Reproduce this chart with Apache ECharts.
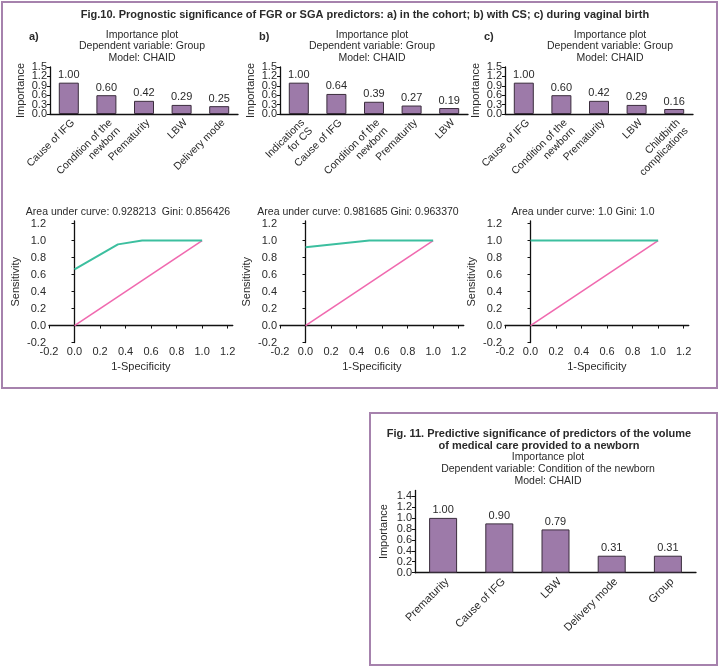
<!DOCTYPE html>
<html>
<head>
<meta charset="utf-8">
<script src="https://cdn.jsdelivr.net/npm/echarts@6/dist/echarts.min.js"></script>
<style>
html,body{margin:0;padding:0;background:#fff;}
#c{width:720px;height:669px;}
</style>
</head>
<body>
<div id="c"></div>
<script>
// ---------- data ----------
const fig10Title = 'Fig.10. Prognostic significance of FGR or SGA predictors: a) in the cohort; b) with CS; c) during vaginal birth';
const panelLetters = ['a)', 'b)', 'c)'];
const plotHeader = ['Importance plot', 'Dependent variable: Group', 'Model: CHAID'];

const catsA = ['Cause of IFG', 'Condition of the\nnewborn', 'Prematurity', 'LBW', 'Delivery mode'];
const valsA = [1.00, 0.60, 0.42, 0.29, 0.25];
const catsB = ['Indications\nfor CS', 'Cause of IFG', 'Condition of the\nnewborn', 'Prematurity', 'LBW'];
const valsB = [1.00, 0.64, 0.39, 0.27, 0.19];
const catsC = ['Cause of IFG', 'Condition of the\nnewborn', 'Prematurity', 'LBW', 'Childbirth\ncomplications'];
const valsC = [1.00, 0.60, 0.42, 0.29, 0.16];
const impTicks = [0, 0.3, 0.6, 0.9, 1.2, 1.5];

const aucTexts = ['Area under curve: 0.928213  Gini: 0.856426', 'Area under curve: 0.981685 Gini: 0.963370', 'Area under curve: 1.0 Gini: 1.0'];
const rocA = [[0, 0.66], [0.34, 0.955], [0.53, 1.0], [1.0, 1.0]];
const rocB = [[0, 0.92], [0.5, 1.0], [1.0, 1.0]];
const rocC = [[0, 1.0], [1.0, 1.0]];
const diagLine = [[0, 0], [1, 1]];
const rocTicks = [-0.2, 0, 0.2, 0.4, 0.6, 0.8, 1.0, 1.2];

const fig11Title = ['Fig. 11. Predictive significance of predictors of the volume', 'of medical care provided to a newborn'];
const fig11Header = ['Importance plot', 'Dependent variable: Condition of the newborn', 'Model: CHAID'];
const cats11 = ['Prematurity', 'Cause of IFG', 'LBW', 'Delivery mode', 'Group'];
const vals11 = [1.00, 0.90, 0.79, 0.31, 0.31];
const imp11Ticks = [0, 0.2, 0.4, 0.6, 0.8, 1.0, 1.2, 1.4];

// ---------- styles ----------
const FONT = '"Liberation Sans", Arial, sans-serif';
const TXT = '#2a2a2a';
const FRAME = '#a682ad';
const BAR_FILL = '#9d7aa9';
const BAR_EDGE = '#3b2d3d';
const GREEN = '#3cbf9f';
const PINK = '#f06aaf';

const chart = echarts.init(document.getElementById('c'), null, {renderer: 'canvas'});

const grids = [], xAxes = [], yAxes = [], series = [], graphics = [];

function txt(x, y, s, size, bold, align) {
  graphics.push({type: 'text', x: x, y: y, silent: true,
    style: {text: s, fill: TXT, font: (bold ? 'bold ' : '') + size + 'px ' + FONT,
      align: align || 'center', verticalAlign: 'middle'}});
}

function axisCommon(fs) {
  return {
    axisLine: {show: true, lineStyle: {color: '#111', width: 1.3}},
    axisTick: {show: true, length: 3, lineStyle: {color: '#111'}},
    axisLabel: {color: TXT, fontSize: fs, fontFamily: FONT, margin: 4},
    splitLine: {show: false},
    nameTextStyle: {color: TXT, fontSize: fs, fontFamily: FONT}
  };
}

function yLabelAxis(gi, ymax, ticks, fs, extra) {
  return Object.assign(axisCommon(fs), {
    type: 'value', gridIndex: gi, min: 0, max: ymax, position: 'left',
    axisLabel: {color: TXT, fontSize: fs, fontFamily: FONT, margin: 3,
      showMinLabel: true, showMaxLabel: true, hideOverlap: false,
      customValues: ticks, formatter: v => v.toFixed(1)},
    axisTick: {show: true, length: 3, customValues: ticks, lineStyle: {color: '#111'}}
  }, extra || {});
}

// split: put alternate tick labels on two coincident axes so the dense labels are all drawn
function addBarPanel(left, top, width, height, cats, vals, ticks, ymax, fs, catFs, barW, nameGap, split) {
  const gi = grids.length;
  grids.push({left: left, top: top, width: width, height: height, containLabel: false});
  xAxes.push(Object.assign(axisCommon(fs), {
    type: 'category', gridIndex: gi, data: cats,
    axisTick: {show: false},
    axisLabel: {color: TXT, fontSize: catFs, fontFamily: FONT, rotate: 45, interval: 0, margin: 3,
      verticalAlign: 'top', lineHeight: catFs + 1}
  }));
  const yi = yAxes.length;
  const mainTicks = split ? ticks.filter((t, i) => i % 2 === 0) : ticks;
  yAxes.push(yLabelAxis(gi, ymax, mainTicks, fs,
    {name: 'Importance', nameLocation: 'middle', nameGap: nameGap, nameRotate: 90}));
  if (split) {
    const altTicks = ticks.filter((t, i) => i % 2 === 1);
    yAxes.push(yLabelAxis(gi, ymax, altTicks, fs, {axisLine: {show: false}, offset: 0}));
  }
  series.push({
    type: 'bar', xAxisIndex: gi, yAxisIndex: yi, data: vals, barWidth: barW,
    itemStyle: {color: BAR_FILL, borderColor: BAR_EDGE, borderWidth: 1},
    label: {show: true, position: 'top', distance: 2, color: TXT, fontSize: fs, fontFamily: FONT,
      formatter: p => p.value.toFixed(2)},
    silent: true, animation: false
  });
}

function addRocPanel(left, top, curve) {
  const gi = grids.length;
  const unitX = 127.6, unitY = 85;
  grids.push({left: left, top: top, width: unitX * 1.44, height: unitY * 1.43});
  xAxes.push(Object.assign(axisCommon(11), {
    type: 'value', gridIndex: gi, min: -0.2, max: 1.24,
    name: '1-Specificity', nameLocation: 'middle', nameGap: 19,
    axisLabel: {color: TXT, fontSize: 11, fontFamily: FONT, margin: 4, customValues: rocTicks,
      showMinLabel: true, formatter: v => v.toFixed(1)},
    axisTick: {show: true, length: 3, customValues: rocTicks, lineStyle: {color: '#111'}}
  }));
  const yi = yAxes.length;
  yAxes.push(Object.assign(axisCommon(11), {
    type: 'value', gridIndex: gi, min: -0.2, max: 1.23,
    name: 'Sensitivity', nameLocation: 'middle', nameGap: 28, nameRotate: 90,
    axisLabel: {color: TXT, fontSize: 11, fontFamily: FONT, margin: 3, customValues: rocTicks,
      showMinLabel: true, formatter: v => v.toFixed(1)},
    axisTick: {show: true, length: 3, customValues: rocTicks, lineStyle: {color: '#111'}}
  }));
  series.push({type: 'line', xAxisIndex: gi, yAxisIndex: yi, data: diagLine, showSymbol: false,
    lineStyle: {color: PINK, width: 1.6}, silent: true, animation: false});
  series.push({type: 'line', xAxisIndex: gi, yAxisIndex: yi, data: curve, showSymbol: false,
    lineStyle: {color: GREEN, width: 2}, silent: true, animation: false});
}

// frames
graphics.push({type: 'rect', shape: {x: 2, y: 2, width: 715, height: 386}, style: {fill: 'none', stroke: FRAME, lineWidth: 2}, silent: true});
graphics.push({type: 'rect', shape: {x: 370, y: 413, width: 347, height: 252}, style: {fill: 'none', stroke: FRAME, lineWidth: 2}, silent: true});

// Fig 10 title
txt(365, 15, fig10Title, 11, true, 'center');

// Bar panels fig 10
const barLefts = [48, 278, 503];
const headerCenters = [142, 372, 610];
const letterX = [29, 259, 484];
const catsAll = [catsA, catsB, catsC];
const valsAll = [valsA, valsB, valsC];
for (let i = 0; i < 3; i++) {
  txt(letterX[i], 37, panelLetters[i], 11, true, 'left');
  for (let k = 0; k < 3; k++) txt(headerCenters[i], 35 + k * 11.6, plotHeader[k], 10.5);
  addBarPanel(barLefts[i] + 2, 67, 188, 47, catsAll[i], valsAll[i], impTicks, 1.5, 11, 10.5, 20, 24, true);
}

// ROC panels
const rocLefts = [49, 280, 505];
const aucCenters = [128, 358, 583];
const curves = [rocA, rocB, rocC];
for (let i = 0; i < 3; i++) {
  txt(aucCenters[i], 212, aucTexts[i], 10.5);
  addRocPanel(rocLefts[i], 221, curves[i]);
}

// Fig 11
txt(539, 434, fig11Title[0], 11, true, 'center');
txt(539, 446, fig11Title[1], 11, true, 'center');
for (let k = 0; k < 3; k++) txt(548, 457.5 + k * 11.6, fig11Header[k], 10.5);
addBarPanel(415, 490.5, 281, 82.2, cats11, vals11, imp11Ticks, 1.5, 11, 11, 28, 26, false);

chart.setOption({
  animation: false,
  backgroundColor: '#fff',
  grid: grids, xAxis: xAxes, yAxis: yAxes, series: series,
  graphic: graphics
});
</script>
</body>
</html>
